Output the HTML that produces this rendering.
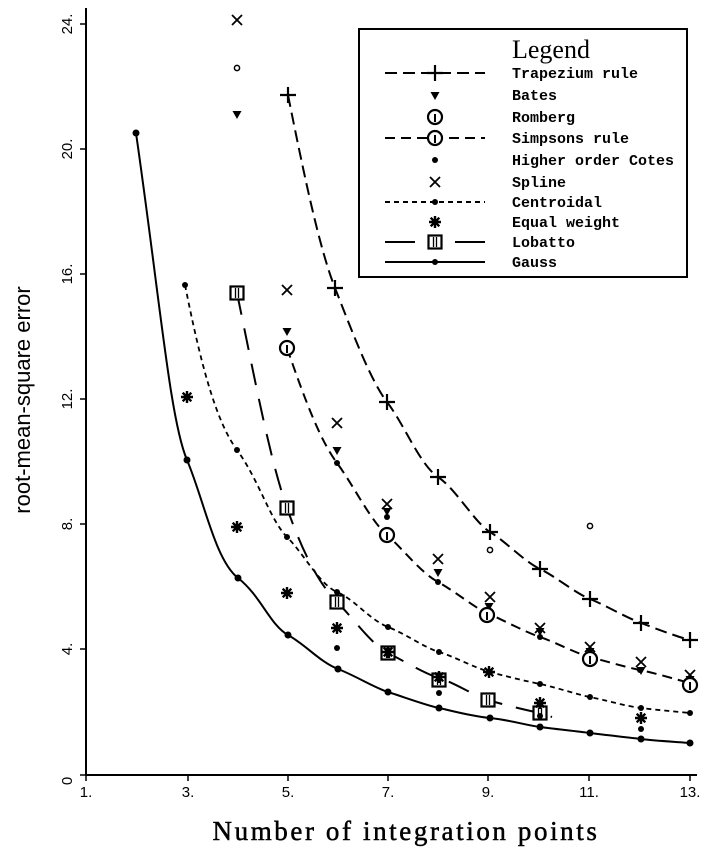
<!DOCTYPE html>
<html><head><meta charset="utf-8"><style>
html,body{margin:0;padding:0;background:#fff;}
svg{display:block;}
</style></head><body>
<svg width="713" height="856" viewBox="0 0 713 856" xmlns="http://www.w3.org/2000/svg" font-family="Liberation Mono, monospace">
<defs>
<g id="plus"><path d="M-8 0H8M0 -8V8" stroke="#000" stroke-width="2.2"/></g>
<g id="cross"><path d="M-5 -5L5 5M-5 5L5 -5" stroke="#000" stroke-width="1.8"/></g>
<g id="tri"><path d="M-4.5 -4L4.5 -4L0 4Z" fill="#000"/></g>
<g id="dot"><circle r="3.5" fill="#000"/></g>
<g id="sdot"><circle r="3" fill="#000"/></g>
<g id="circ"><circle r="7" fill="#fff" stroke="#000" stroke-width="2.2"/><path d="M0 -3V5" stroke="#000" stroke-width="2"/></g>
<g id="sq"><rect x="-6.5" y="-6.5" width="13" height="13" fill="#fff" stroke="#000" stroke-width="2.2"/><path d="M-1.5 -5V5M1.5 -5V5" stroke="#000" stroke-width="1.3"/></g>
<g id="star"><path d="M-6 0H6M0 -6V6M-4.3 -4.3L4.3 4.3M-4.3 4.3L4.3 -4.3" stroke="#000" stroke-width="2.4"/></g>
<g id="ocot"><circle r="2.6" fill="#fff" stroke="#000" stroke-width="1.5"/></g>
</defs>
<path d="M86 8V775H697" stroke="#000" stroke-width="2" fill="none"/>
<g stroke="#000" stroke-width="1.5">
<path d="M80 775H86M80 649H86M80 524H86M80 399H86M80 274H86M80 149H86M80 24H86"/>
<path d="M86 775V781M188 775V781M288 775V781M388 775V781M488 775V781M589 775V781M690 775V781"/>
</g>
<g font-family="Liberation Sans, sans-serif" font-size="15">
<text transform="translate(72,781) rotate(-90)" text-anchor="middle">0</text>
<text transform="translate(72,649) rotate(-90)" text-anchor="middle">4.</text>
<text transform="translate(72,524) rotate(-90)" text-anchor="middle">8.</text>
<text transform="translate(72,399) rotate(-90)" text-anchor="middle">12.</text>
<text transform="translate(72,274) rotate(-90)" text-anchor="middle">16.</text>
<text transform="translate(72,149) rotate(-90)" text-anchor="middle">20.</text>
<text transform="translate(72,24) rotate(-90)" text-anchor="middle">24.</text>
<text x="86" y="797" text-anchor="middle">1.</text>
<text x="188" y="797" text-anchor="middle">3.</text>
<text x="288" y="797" text-anchor="middle">5.</text>
<text x="388" y="797" text-anchor="middle">7.</text>
<text x="488" y="797" text-anchor="middle">9.</text>
<text x="589" y="797" text-anchor="middle">11.</text>
<text x="690" y="797" text-anchor="middle">13.</text>
<text transform="translate(30,400) rotate(-90)" text-anchor="middle" font-size="22">root-mean-square error</text>
</g>
<text x="406" y="840" text-anchor="middle" font-family="Liberation Serif, serif" font-size="27" letter-spacing="2.6" stroke="#000" stroke-width="0.5">Number of integration points</text>

<g fill="none" stroke="#000">
<path d="M136 133 C160 300,170 420,187 460 S215 560,238 578 S270 625,288 635 S320 662,338 669 S375 688,388 692 S425 705,439 708 S470 716,490 718 S525 725,540 727 S575 731,590 733 S625 737,641 739 S680 742,690 743" stroke-width="2"/>
<path d="M185 285 C200 360,215 420,237 450 S270 520,287 537 S320 585,337 592 S370 620,388 627 S425 648,439 652 S475 668,490 672 S525 681,540 684 S575 694,590 697 S625 706,641 708 S680 712,690 713" stroke-width="1.8" stroke-dasharray="5,4"/>
<path d="M237 293 C255 380,270 460,287 508 S320 585,337 602 S372 645,388 653 S425 674,439 678 S475 696,488 700 S525 710,540 713 L552 717" stroke-width="2" stroke-dasharray="22,14"/>
<path d="M288 95 C305 180,320 250,335 288 S370 380,387 402 S420 465,438 477 S475 523,490 532 S525 562,540 569 S575 593,590 599 S625 617,641 623 S678 637,690 640" stroke-width="2" stroke-dasharray="12,6"/>
<path d="M287 348 C305 400,320 440,337 463 S370 520,387 535 S420 572,438 582 S475 608,487 613 S525 632,540 637 S575 653,590 657 S625 667,640 670 S678 680,690 683" stroke-width="2" stroke-dasharray="10,6"/>
</g>
<g>
<use href="#dot" x="136" y="133"/><use href="#dot" x="187" y="460"/><use href="#dot" x="238" y="578"/><use href="#dot" x="288" y="635"/><use href="#dot" x="338" y="669"/><use href="#dot" x="388" y="692"/><use href="#dot" x="439" y="708"/><use href="#dot" x="490" y="718"/><use href="#dot" x="540" y="727"/><use href="#dot" x="590" y="733"/><use href="#dot" x="641" y="739"/><use href="#dot" x="690" y="743"/>
<use href="#sdot" x="185" y="285"/><use href="#sdot" x="237" y="450"/><use href="#sdot" x="287" y="537"/><use href="#sdot" x="337" y="592"/><use href="#sdot" x="388" y="627"/><use href="#sdot" x="439" y="652"/><use href="#sdot" x="490" y="672"/><use href="#sdot" x="540" y="684"/><use href="#sdot" x="590" y="697"/><use href="#sdot" x="641" y="708"/><use href="#sdot" x="690" y="713"/>
<use href="#plus" x="288" y="95"/><use href="#plus" x="335" y="288"/><use href="#plus" x="387" y="402"/><use href="#plus" x="438" y="477"/><use href="#plus" x="490" y="532"/><use href="#plus" x="540" y="569"/><use href="#plus" x="590" y="599"/><use href="#plus" x="641" y="623"/><use href="#plus" x="690" y="640"/>
<use href="#cross" x="237" y="20"/><use href="#cross" x="287" y="290"/><use href="#cross" x="337" y="423"/><use href="#cross" x="387" y="504"/><use href="#cross" x="438" y="559"/><use href="#cross" x="490" y="597"/><use href="#cross" x="540" y="628"/><use href="#cross" x="590" y="647"/><use href="#cross" x="641" y="662"/><use href="#cross" x="690" y="675"/>
<use href="#tri" x="237" y="115"/><use href="#tri" x="287" y="332"/><use href="#tri" x="337" y="451"/><use href="#tri" x="387" y="512"/><use href="#tri" x="438" y="573"/><use href="#tri" x="489" y="607"/><use href="#tri" x="540" y="632"/><use href="#tri" x="590" y="652"/><use href="#tri" x="641" y="671"/><use href="#tri" x="690" y="680"/>
<use href="#circ" x="287" y="348"/><use href="#circ" x="387" y="535"/><use href="#circ" x="487" y="615"/><use href="#circ" x="590" y="659"/><use href="#circ" x="690" y="685"/>
<use href="#sdot" x="337" y="463"/><use href="#sdot" x="438" y="582"/><use href="#sdot" x="540" y="637"/><use href="#sdot" x="640" y="670"/>
<use href="#sq" x="237" y="293"/><use href="#sq" x="287" y="508"/><use href="#sq" x="337" y="602"/><use href="#sq" x="388" y="653"/><use href="#sq" x="439" y="680"/><use href="#sq" x="488" y="700"/><use href="#sq" x="540" y="713"/>
<use href="#star" x="187" y="397"/><use href="#star" x="237" y="527"/><use href="#star" x="287" y="593"/><use href="#star" x="337" y="628"/><use href="#star" x="388" y="652"/><use href="#star" x="439" y="677"/><use href="#star" x="489" y="672"/><use href="#star" x="540" y="703"/><use href="#star" x="641" y="718"/>
<use href="#ocot" x="237" y="68"/><use href="#sdot" x="337" y="648"/><use href="#sdot" x="387" y="517"/><use href="#sdot" x="439" y="693"/><use href="#ocot" x="490" y="550"/><use href="#sdot" x="540" y="716"/><use href="#ocot" x="590" y="526"/><use href="#sdot" x="641" y="729"/>
</g>
<rect x="359" y="29" width="328" height="248" fill="#fff" stroke="#000" stroke-width="2"/>
<text x="512" y="58" font-family="Liberation Serif, serif" font-size="26">Legend</text>
<g font-size="15" font-weight="bold">
<text x="512" y="78">Trapezium rule</text>
<text x="512" y="100">Bates</text>
<text x="512" y="122">Romberg</text>
<text x="512" y="143">Simpsons rule</text>
<text x="512" y="165">Higher order Cotes</text>
<text x="512" y="187">Spline</text>
<text x="512" y="207">Centroidal</text>
<text x="512" y="227">Equal weight</text>
<text x="512" y="247">Lobatto</text>
<text x="512" y="267">Gauss</text>
</g>
<g fill="none" stroke="#000" stroke-width="2">
<path d="M385 73H485" stroke-dasharray="12,6"/>
<path d="M385 138H485" stroke-dasharray="10,6"/>
<path d="M385 202H485" stroke-dasharray="5,4"/>
<path d="M385 242H415M455 242H485"/>
<path d="M385 262H485"/>
</g>
<use href="#plus" x="435" y="73"/>
<use href="#tri" x="435" y="96"/>
<use href="#circ" x="435" y="117"/>
<use href="#circ" x="435" y="138"/>
<use href="#sdot" x="435" y="160"/>
<use href="#cross" x="435" y="182"/>
<use href="#sdot" x="435" y="202"/>
<use href="#star" x="435" y="222"/>
<use href="#sq" x="435" y="242"/>
<use href="#sdot" x="435" y="262"/>
</svg>
</body></html>
